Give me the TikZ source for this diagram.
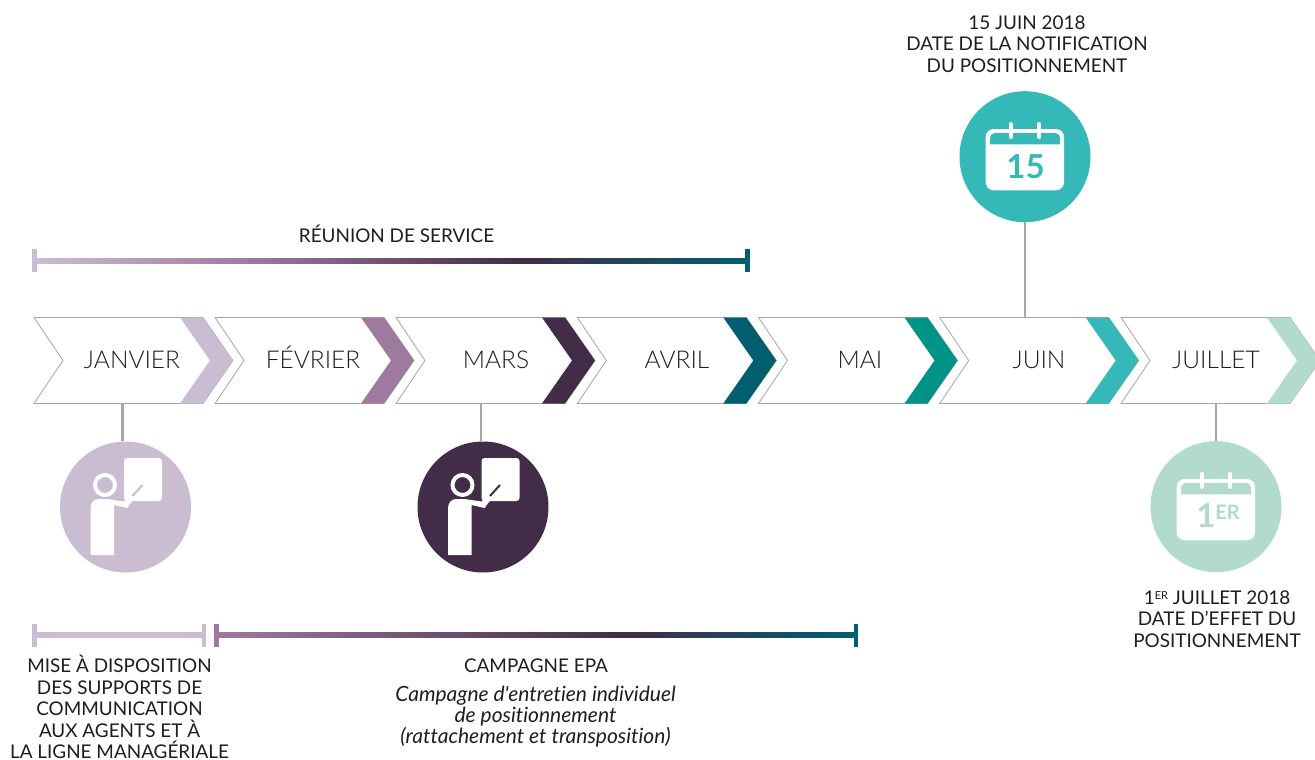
\documentclass[tikz,border=0pt]{standalone}
\usepackage{fontspec}
\setmainfont{Lato}[UprightFont=* Light,ItalicFont=* Light Italic,BoldFont=* Bold]
\newfontfamily\capfont{Lato}[Ligatures=NoCommon]
\definecolor{lilac}{HTML}{CBBDD1}
\definecolor{plum}{HTML}{9E7A9F}
\definecolor{aubergine}{HTML}{432C47}
\definecolor{deepteal}{HTML}{005F6E}
\definecolor{seagreen}{HTML}{009489}
\definecolor{turq}{HTML}{35B8B8}
\definecolor{mint}{HTML}{B2DBCD}
\definecolor{wire}{HTML}{A6A6A6}
\definecolor{ink}{HTML}{1E1E1E}
\pgfdeclarehorizontalshading{topbar}{100bp}{color(0bp)=(lilac); color(25bp)=(lilac); color(40bp)=(plum); color(59bp)=(aubergine); color(75bp)=(deepteal); color(100bp)=(deepteal)}
\pgfdeclarehorizontalshading{lowbar}{100bp}{color(0bp)=(plum); color(25bp)=(plum); color(57bp)=(aubergine); color(75bp)=(deepteal); color(100bp)=(deepteal)}
\tikzset{
  x=1pt,y=-1pt,
  monthlabel/.style={text=ink,font=\fontsize{24.5}{27}\selectfont,inner sep=0pt,anchor=base},
  caption/.style={text=ink,font=\capfont\fontsize{18.9}{21.6}\selectfont,align=center,inner sep=0pt},
  notetext/.style={text=ink,font=\capfont\fontsize{21}{21}\selectfont\itshape,align=center,inner sep=0pt},
  disc/.style={circle,minimum size=131pt,inner sep=0pt,fill=#1},
  link/.style={draw=wire,line width=2.4pt},
  shell/.style={draw=wire,line width=0.8pt,fill=white,line join=miter},
}
% chevron: #1 left x, #2 colour, #3 name, #4 label, #5 label x
\newcommand{\chevron}[5]{%
  \path[shell] (#1,317.5) -- (#1+169,317.5) -- (#1+199,360.5) -- (#1+169,403.5) -- (#1,403.5) -- (#1+29,360.5) -- cycle;
  \fill[#2] (#1+146,317.5) -- (#1+169,317.5) -- (#1+199,360.5) -- (#1+169,403.5) -- (#1+146,403.5) -- (#1+176,360.5) -- cycle;
  \node[monthlabel] (#3) at (#5,368) {#4};
}
% teacher pictogram: #1 x shift, #2 background colour
\newcommand{\teacher}[2]{%
  \begin{scope}[xshift=#1pt]
    \fill[white,rounded corners=3pt] (124,458) rectangle (162,501);
    \draw[white,line width=4pt] (105,485) circle[radius=10];
    \fill[white] (90.7,555) [rounded corners=8pt] -- (90.7,499) [sharp corners] -- (107,499) -- (124,501.5) -- (132,495) -- (135,497.5) -- (127,508) -- (114,505) -- (114,555) -- cycle;
    \draw[#2,line width=2pt] (132.5,496) -- (142.5,485);
  \end{scope}
}
% calendar pictogram: #1,#2 shift, #3 colour
\newcommand{\calpict}[3]{%
  \begin{scope}[shift={(#1,#2)}]
    \fill[white,rounded corners=8pt] (985.7,129) rectangle (1064,190.3);
    \fill[#3] (990,144.3) [rounded corners=5pt] -- (990,133) -- (1060,133) [sharp corners] -- (1060,144.3) -- cycle;
    \draw[white,line width=4pt,line cap=round] (1010.7,124) -- (1010.7,137);
    \draw[white,line width=4pt,line cap=round] (1039.3,124) -- (1039.3,137);
  \end{scope}
}
\begin{document}
\begin{tikzpicture}
\clip (0,0) rectangle (1315,760);
\fill[white] (0,0) rectangle (1315,760);

% bars
\shade[shading=topbar] (34,258.2) rectangle (747,263.8);
\fill[lilac] (32,248.5) rectangle (37,272);
\fill[deepteal] (744.5,248.5) rectangle (749.5,272);
\fill[lilac] (34,632.2) rectangle (205,637.8);
\fill[lilac] (32,623.5) rectangle (37,647);
\fill[lilac] (201.5,623.5) rectangle (206,647);
\shade[shading=lowbar] (215,632.2) rectangle (857,637.8);
\fill[plum] (214,623.5) rectangle (219,647);
\fill[deepteal] (853.5,623.5) rectangle (858,647);

% chevrons
\chevron{34}{lilac}{jan}{JANVIER}{132}
\chevron{215}{plum}{feb}{FÉVRIER}{313}
\chevron{396}{aubergine}{mar}{MARS}{496}
\chevron{577.3}{deepteal}{apr}{AVRIL}{677}
\chevron{758.5}{seagreen}{may}{MAI}{860}
\chevron{939.7}{turq}{jun}{JUIN}{1039}
\chevron{1121}{mint}{jul}{JUILLET}{1216}

% discs
\node[disc=lilac] (d1) at (125.5,507) {};
\node[disc=aubergine] (d2) at (483,507) {};
\node[disc=turq] (d3) at (1025,156.7) {};
\node[disc=mint] (d4) at (1216,506.7) {};

% links
\coordinate (l1) at (122.5,403.5);
\coordinate (l2) at (481,403.5);
\coordinate (l3) at (1025,317.5);
\coordinate (l4) at (1216,403.5);
\draw[link] (l1) -- (122.5,441);
\draw[link] (l2) -- (481,441);
\draw[link] (d3.south) -- (l3);
\draw[link] (l4) -- (d4.north);

% pictograms
\teacher{0}{lilac}
\teacher{357.5}{aubergine}
\calpict{0}{0}{turq}
\calpict{191}{350}{mint}
\node[text=turq,font=\capfont\fontsize{33}{33}\selectfont\bfseries,inner sep=0pt] (n15) at (1025.5,167) {15};
\node[text=mint,font=\capfont\fontsize{33}{33}\selectfont\bfseries,inner sep=0pt] (n1er) at (1218,516) {1\raisebox{8pt}{\fontsize{20}{20}\selectfont ER}};

% captions
\node[caption] (t1) at (1027,44) {15 JUIN 2018\\DATE DE LA NOTIFICATION\\DU POSITIONNEMENT};
\node[caption] (t2) at (396.5,234) {RÉUNION DE SERVICE};
\node[caption] (t3) at (119.5,707) {MISE À DISPOSITION\\DES SUPPORTS DE\\COMMUNICATION\\AUX AGENTS ET À\\LA LIGNE MANAGÉRIALE};
\node[caption] (t4) at (536,666) {CAMPAGNE EPA};
\node[notetext] (t5) at (535.5,717) {Campagne d'entretien individuel\\de positionnement\\(rattachement et transposition)};
\node[caption] (t6) at (1217,619) {1\raisebox{5pt}{\fontsize{11}{11}\selectfont ER} JUILLET 2018\\DATE D’EFFET DU\\POSITIONNEMENT};
\end{tikzpicture}
\end{document}
